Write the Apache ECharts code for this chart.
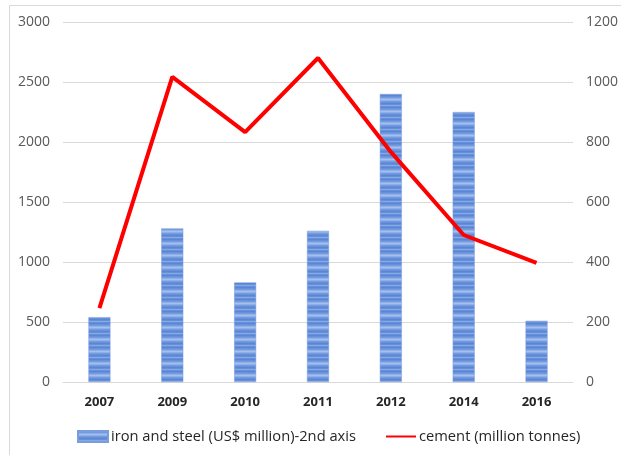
<!DOCTYPE html>
<html><head><meta charset="utf-8">
<script src="https://cdn.jsdelivr.net/npm/echarts@6/dist/echarts.min.js"></script>
<style>html,body{margin:0;padding:0;background:#fff}#c{width:621px;height:455px}</style>
</head><body><div id="c"></div>
<script>
const categories = ['2007','2009','2010','2011','2012','2014','2016'];
const ironSteel = [540, 1280, 830, 1260, 2400, 2250, 510];
const cement = [246, 1017, 833, 1080, 767, 490, 397];
const leftTicks = {min: 0, max: 3000, interval: 500};
const rightTicks = {min: 0, max: 1200, interval: 200};

function stripePattern() {
  const c = document.createElement('canvas');
  c.width = 4; c.height = 12;
  const g = c.getContext('2d');
  const cols = ['#6690da','#759ce0','#8eaee7','#a6c0ee','#8eaee7','#759ce0','#6690da','#5a86d4','#6690da','#86a8e6','#6690da','#5a86d4'];
  cols.forEach((col,i)=>{g.fillStyle=col;g.fillRect(0,i,4,1);});
  return {image: c, repeat: 'repeat'};
}
const pat = stripePattern();
const chart = echarts.init(document.getElementById('c'), null, {renderer: 'canvas'});
const lab = {color: '#595959', fontSize: 14, fontFamily: 'Open Sans', formatter: v => String(v)};
chart.setOption({
  animation: false,
  graphic: [{type: 'rect', shape: {x: 9.5, y: 5.5, width: 700, height: 500}, style: {fill: 'none', stroke: '#d9d9d9', lineWidth: 1}, z: -1}],
  grid: {left: 63, right: 41, top: 22, bottom: 73},
  legend: {
    left: 72, top: 424, itemGap: 30, itemWidth: 30, itemHeight: 11,
    textStyle: {color: '#262626', fontSize: 14.7, fontFamily: 'Open Sans', padding: [0,0,0,-2]},
    data: [{name: 'iron and steel (US$ million)-2nd axis', icon: 'rect'}, {name: 'cement (million tonnes)', icon: 'path://M0,4.5L30,4.5L30,6.5L0,6.5Z'}]
  },
  xAxis: {
    type: 'category', data: categories,
    axisLine: {lineStyle: {color: '#d9d9d9', width: 1}}, axisTick: {show: false},
    axisLabel: {color: '#262626', fontSize: 13, fontWeight: 'bold', fontFamily: 'Open Sans', margin: 14}
  },
  yAxis: [
    {type: 'value', ...leftTicks, axisLine: {show: false}, axisTick: {show: false},
     axisLabel: {...lab, margin: 13}, splitLine: {lineStyle: {color: '#d9d9d9'}}},
    {type: 'value', ...rightTicks, axisLine: {show: false}, axisTick: {show: false},
     axisLabel: {...lab, margin: 13}, splitLine: {show: false}}
  ],
  series: [
    {name: 'iron and steel (US$ million)-2nd axis', type: 'bar', yAxisIndex: 0, data: ironSteel, barWidth: 22,
     itemStyle: {color: pat, borderColor: '#7a9ddc', borderWidth: 0.5}},
    {name: 'cement (million tonnes)', type: 'line', yAxisIndex: 1, data: cement, symbol: 'none',
     lineStyle: {color: '#ff0000', width: 4}, itemStyle: {color: '#ff0000'}}
  ]
});
</script></body></html>
